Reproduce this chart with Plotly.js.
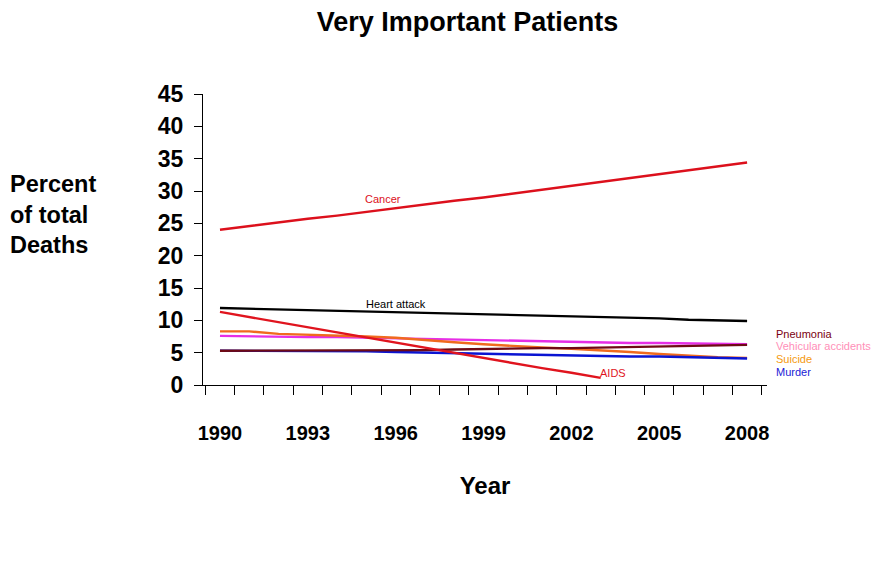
<!DOCTYPE html>
<html>
<head>
<meta charset="utf-8">
<script src="https://cdn.plot.ly/plotly-3.0.1.min.js"></script>
<style>html,body{margin:0;padding:0;background:#fff;}#chart{width:887px;height:580px;}</style>
</head>
<body>
<div id="chart"></div>
<script>
// ---- data ----
const years = [1990,1991,1992,1993,1994,1995,1996,1997,1998,1999,2000,2001,2002,2003,2004,2005,2006,2007,2008];
const aidsYears = [1990,1991,1992,1993,1994,1995,1996,1997,1998,1999,2000,2001,2002,2003];
const cancer      = [24.0,24.6,25.2,25.7,26.2,26.8,27.4,27.9,28.5,29.0,29.6,30.2,30.8,31.3,31.9,32.5,33.1,33.8,34.4];
const heartAttack = [11.9,11.8,11.7,11.6,11.5,11.4,11.3,11.2,11.1,11.0,10.8,10.7,10.6,10.5,10.4,10.3,10.1,10.0,9.9];
const aids        = [11.3,10.5,9.7,8.9,8.1,7.3,6.6,5.8,5.0,4.2,3.4,2.6,1.9,1.1];
const pneumonia   = [5.3,5.3,5.3,5.3,5.3,5.3,5.3,5.4,5.5,5.6,5.6,5.7,5.7,5.8,5.9,6.0,6.1,6.2,6.2];
const vehicular   = [7.6,7.5,7.5,7.4,7.4,7.3,7.2,7.1,7.0,6.9,6.9,6.8,6.7,6.6,6.5,6.5,6.4,6.3,6.3];
const suicide     = [8.3,8.3,7.9,7.8,7.6,7.5,7.3,6.9,6.6,6.3,6.0,5.8,5.6,5.4,5.1,4.8,4.5,4.3,4.2];
const murder      = [5.3,5.3,5.3,5.3,5.2,5.2,5.1,5.0,4.9,4.8,4.7,4.6,4.6,4.5,4.4,4.4,4.3,4.2,4.1];
const xTickLabels = [1990,1993,1996,1999,2002,2005,2008];
const yTickVals = [0,5,10,15,20,25,30,35,40,45];
const seriesNames = ['Pneumonia','Vehicular accidents','Suicide','Murder'];

const FONT = 'Liberation Sans, Arial, Helvetica, sans-serif';
const boundaries = years.map(y => y - 0.5).concat([years[years.length-1] + 0.5]);

function line(x, y, color, name) {
  return {x: x, y: y, type: 'scatter', mode: 'lines', name: name,
          line: {color: color, width: 2.4}, hoverinfo: 'skip', showlegend: false};
}

const traces = [
  line(years, vehicular, '#e62ee6', 'Vehicular accidents'),
  line(years, suicide, '#f06a1e', 'Suicide'),
  line(years, murder, '#0a14d2', 'Murder'),
  line(years, pneumonia, '#6e0a14', 'Pneumonia'),
  line(years, heartAttack, '#000000', 'Heart attack'),
  line(aidsYears, aids, '#e0141e', 'AIDS'),
  line(years, cancer, '#dc101c', 'Cancer')
];

const rightColors = ['#7a0010', '#ff8fb8', '#f59a10', '#1a1ad6'];
const rightY = [7.85, 6.1, 3.95, 2.0];

const annotations = [
  {text: 'Percent<br>of total<br>Deaths', xref: 'paper', yref: 'paper', x: -0.346, y: 0.586,
   xanchor: 'left', yanchor: 'middle', align: 'left', showarrow: false,
   font: {family: FONT, size: 23.5, color: '#000', weight: 'bold'}},
  {text: 'Cancer', xref: 'x', yref: 'y', x: 1995.57, y: 28.8, showarrow: false,
   font: {family: FONT, size: 11, color: '#dc101c'}},
  {text: 'Heart attack', xref: 'x', yref: 'y', x: 1996.0, y: 12.6, showarrow: false,
   font: {family: FONT, size: 11, color: '#000'}},
  {text: 'AIDS', xref: 'x', yref: 'y', x: 2003.42, y: 1.85, showarrow: false,
   font: {family: FONT, size: 11, color: '#e0141e'}}
];
seriesNames.forEach((n, i) => annotations.push({
  text: n, xref: 'paper', yref: 'y', x: 1.013, y: rightY[i], xanchor: 'left', yanchor: 'middle',
  showarrow: false, font: {family: FONT, size: 11, color: rightColors[i]}
}));

const layout = {
  width: 887, height: 580,
  margin: {l: 203, r: 120, t: 94, b: 195, pad: 0},
  paper_bgcolor: '#ffffff', plot_bgcolor: '#ffffff',
  font: {family: FONT, color: '#000'},
  title: {text: 'Very Important Patients', xref: 'container', yref: 'container',
          x: 0.527, y: 0.962, xanchor: 'center', yanchor: 'middle',
          font: {family: FONT, size: 27, color: '#000', weight: 'bold'}},
  showlegend: false,
  xaxis: {
    type: 'linear', range: [1989.42, 2008.68],
    tickmode: 'array', tickvals: xTickLabels, ticktext: xTickLabels.map(String),
    ticks: '', showgrid: false, zeroline: false,
    showline: true, linecolor: '#000', linewidth: 1,
    tickfont: {family: FONT, size: 20, color: '#000', weight: 'bold'},
    ticklabelstandoff: 30,
    minor: {tickmode: 'array', tickvals: boundaries, ticks: 'outside', ticklen: 9, tickcolor: '#000', tickwidth: 1, showgrid: false},
    title: {text: 'Year', standoff: 34, font: {family: FONT, size: 24, color: '#000', weight: 'bold'}}
  },
  yaxis: {
    range: [0, 45], tickmode: 'array', tickvals: yTickVals,
    ticks: 'outside', ticklen: 8, tickcolor: '#000', tickwidth: 1,
    showgrid: false, zeroline: false,
    showline: true, linecolor: '#000', linewidth: 1,
    tickfont: {family: FONT, size: 23, color: '#000', weight: 'bold'},
    ticklabelstandoff: 6
  },
  annotations: annotations
};

Plotly.newPlot('chart', traces, layout, {displayModeBar: false, staticPlot: true});
</script>
</body>
</html>
